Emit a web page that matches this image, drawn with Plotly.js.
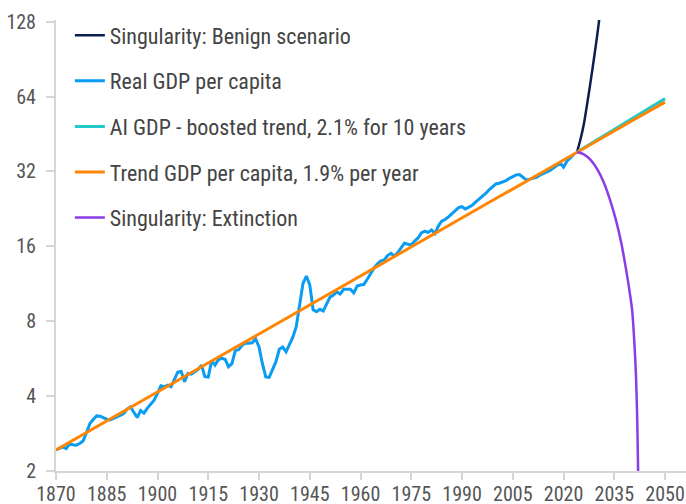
<!DOCTYPE html>
<html>
<head>
<meta charset="utf-8">
<script src="https://cdn.plot.ly/plotly-3.0.1.min.js"></script>
<style>html,body{margin:0;padding:0;background:#fff;}#chart{width:686px;height:504px;}</style>
</head>
<body>
<div id="chart"></div>
<script>
// Real GDP per capita, annual from 1870
const realStart = 1870;
const realValues = [
  2.43, 2.47, 2.50, 2.46, 2.57, 2.55, 2.54, 2.58, 2.64, 2.85,
  3.10, 3.22, 3.33, 3.32, 3.27, 3.23, 3.21, 3.25, 3.29, 3.35,
  3.40, 3.55, 3.62, 3.45, 3.28, 3.50, 3.42, 3.58, 3.70, 3.85,
  4.10, 4.40, 4.36, 4.43, 4.36, 4.64, 5.00, 5.03, 4.57, 4.93,
  4.90, 5.01, 5.12, 5.33, 4.79, 4.77, 5.55, 5.33, 5.60, 5.68,
  5.62, 5.25, 5.40, 6.10, 6.15, 6.40, 6.52, 6.52, 6.55, 6.80,
  6.30, 5.40, 4.78, 4.76, 5.09, 5.50, 6.17, 6.30, 6.03, 6.42,
  6.90, 7.60, 9.44, 11.36, 12.15, 11.2, 8.9, 8.74, 8.93, 8.80,
  9.40, 10.0, 10.2, 10.5, 10.3, 10.75, 10.75, 10.75, 10.4, 11.08,
  11.18, 11.25, 11.8, 12.45, 13.1, 13.6, 14.0, 14.1, 14.7, 15.0,
  14.6, 15.1, 15.8, 16.5, 16.3, 16.2, 16.8, 17.3, 18.1, 18.4,
  18.2, 18.6, 18.0, 19.3, 20.2, 20.5, 21.0, 21.6, 22.2, 22.9,
  23.1, 22.6, 23.0, 23.4, 24.1, 24.7, 25.5, 26.1, 27.0, 27.8,
  28.5, 28.7, 29.0, 29.4, 30.0, 30.6, 31.0, 31.1, 30.3, 29.6,
  29.8, 30.1, 30.3, 30.9, 31.3, 31.8, 32.3, 33.0, 33.9, 34.6,
  33.3, 35.2, 36.3, 37.5
];

// Trend GDP per capita, 1.9% per year (every 10 years)
const trendYears = [1870, 1880, 1890, 1900, 1910, 1920, 1930, 1940, 1950, 1960,
                    1970, 1980, 1990, 2000, 2010, 2020, 2030, 2040, 2050];
const trendValues = [2.43, 2.91, 3.48, 4.16, 4.97, 5.95, 7.11, 8.51, 10.2, 12.2,
                     14.5, 17.4, 20.8, 24.9, 29.7, 35.6, 42.5, 50.9, 60.8];

// AI GDP - boosted trend
const aiYears = [2024, 2030, 2034, 2040, 2045, 2050];
const aiValues = [38.3, 42.9, 46.2, 52.0, 57.1, 62.8];

// Singularity: Benign scenario
const benignYears = [2024, 2025, 2026, 2027, 2028, 2029, 2030, 2030.6];
const benignValues = [38.3, 43.0, 49.5, 60.0, 73.5, 91.0, 114.0, 132.0];

// Singularity: Extinction
const extYears = [2024, 2026, 2028, 2030, 2032, 2034, 2035.5, 2037, 2038.5, 2039.5,
                  2040.3, 2040.9, 2041.4, 2041.7, 2041.9, 2042.1];
const extValues = [38.3, 37.5, 35.6, 32.6, 28.7, 24.0, 20.4, 16.7, 12.9, 10.6,
                   8.8, 6.7, 4.9, 3.6, 2.65, 1.8];

const xTicks = [1870, 1885, 1900, 1915, 1930, 1945, 1960, 1975, 1990, 2005, 2020, 2035, 2050];
const yTicks = [2, 4, 8, 16, 32, 64, 128];

const FONT = '"Liberation Sans Narrow", "Roboto Condensed", "Arial Narrow", Roboto, sans-serif';

const traces = [
  {name: 'Singularity: Benign scenario', x: benignYears, y: benignValues,
   mode: 'lines', line: {color: '#0c1f4d', width: 2.5, shape: 'spline', smoothing: 0.8}, legendgroup: 'g1'},
  {name: 'Real GDP per capita', x0: realStart, dx: 1, y: realValues,
   mode: 'lines', line: {color: '#0a9cf2', width: 3}, legendgroup: 'g2'},
  {name: 'AI GDP - boosted trend, 2.1% for 10 years', x: aiYears, y: aiValues,
   mode: 'lines', line: {color: '#22c9cb', width: 3}, legendgroup: 'g3'},
  {name: 'Trend GDP per capita, 1.9% per year', x: trendYears, y: trendValues,
   mode: 'lines', line: {color: '#ff8505', width: 3}, legendgroup: 'g4'},
  {name: 'Singularity: Extinction', x: extYears, y: extValues,
   mode: 'lines', line: {color: '#8a3de6', width: 2.5, shape: 'spline', smoothing: 0.8}, legendgroup: 'g5'}
];

const axisCommon = {
  showgrid: false, zeroline: false, showline: true,
  linecolor: '#d6d6d6', linewidth: 2,
  ticks: 'outside', tickcolor: '#d6d6d6', tickwidth: 2,
  tickfont: {family: FONT, size: 20, color: '#555555'}
};

const layout = {
  width: 686, height: 504,
  margin: {l: 56, r: 0, t: 20, b: 33, pad: 0},
  paper_bgcolor: '#ffffff', plot_bgcolor: '#ffffff',
  showlegend: true,
  legend: {
    x: 0.022, y: 1.0124, xanchor: 'left', yanchor: 'top',
    traceorder: 'grouped', tracegroupgap: 14,
    font: {family: FONT, size: 22, color: '#444444'},
    bgcolor: 'rgba(0,0,0,0)', borderwidth: 0
  },
  xaxis: Object.assign({}, axisCommon, {
    range: [1870, 2056.2], tickmode: 'array', tickvals: xTicks,
    ticktext: xTicks.map(String), ticklen: 7, ticklabelstandoff: -3
  }),
  yaxis: Object.assign({}, axisCommon, {
    type: 'log', range: [Math.log10(2), Math.log10(130)],
    tickmode: 'array', tickvals: yTicks, ticktext: yTicks.map(String),
    ticklen: 8, ticklabelstandoff: 6
  })
};

Plotly.newPlot('chart', traces, layout, {displayModeBar: false, staticPlot: true});
</script>
</body>
</html>
